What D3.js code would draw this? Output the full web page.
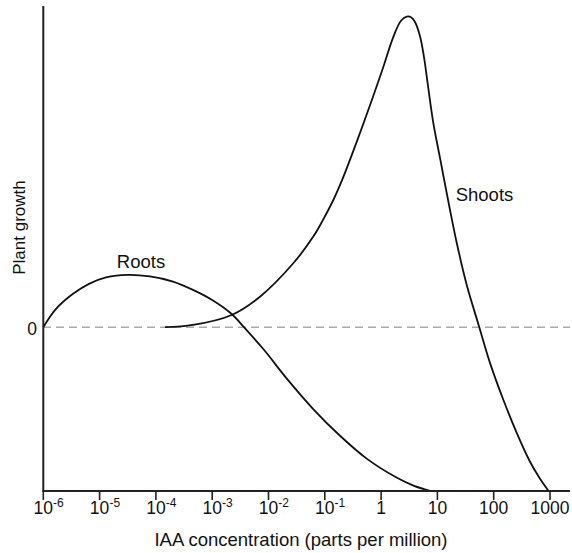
<!DOCTYPE html>
<html>
<head>
<meta charset="utf-8">
<script src="https://cdn.jsdelivr.net/npm/d3@7"></script>
<style>
  body { margin: 0; background: #fff; }
  text { font-family: "Liberation Sans", Arial, sans-serif; fill: #111; }
</style>
</head>
<body>
<svg width="572" height="553"></svg>
<script>
// log10 of IAA concentration (ppm) and relative growth
const rootsLogConc = [-6, -5.774, -5.472, -5.188, -4.886, -4.496, -4.105, -3.696, -3.341, -2.986, -2.654, -2.435, -2.092, -1.671, -1.210, -0.730, -0.250, 0.283, 0.585, 0.887];
const rootsGrowth  = [0, 5.7, 10.4, 13.5, 15.5, 16.3, 15.8, 14.2, 11.6, 8.3, 4.1, 0, -6.8, -16.1, -25.4, -33.8, -41.0, -46.9, -49.4, -51];

const shootsLogConc = [-3.838, -3.341, -2.654, -2.151, -1.560, -1.204, -1.032, -0.849, -0.677, -0.433, -0.139, 0.039, 0.211, 0.353, 0.455, 0.531, 0.602, 0.691, 0.762, 0.824, 0.927, 1.046, 1.224, 1.348, 1.520, 1.744, 1.934, 2.171, 2.409, 2.645, 2.823, 2.975];
const shootsGrowth  = [0, 0.7, 3.8, 9.5, 19.9, 28.2, 33.4, 39.6, 46.5, 57.7, 72.0, 81.0, 90.1, 95.4, 96.7, 96.5, 95.0, 90.6, 84.1, 76.3, 63.6, 52.7, 36.5, 25.9, 13.2, 0, -11.1, -22.6, -32.9, -41.9, -47.2, -51];

const tickExponents = [-6, -5, -4, -3, -2, -1, 0, 1, 2, 3];
const tickLabels = ["10", "10", "10", "10", "10", "10", "1", "10", "100", "1000"];
const tickSuper = ["-6", "-5", "-4", "-3", "-2", "-1", "", "", "", ""];

const svg = d3.select("svg");
const x = d3.scaleLog().domain([1e-6, 1000]).range([43.3, 550]);
const y = d3.scaleLinear().domain([-51, 100]).range([491, 6]);

// zero line
svg.append("line")
    .attr("x1", 43).attr("x2", 570)
    .attr("y1", y(0)).attr("y2", y(0))
    .attr("stroke", "#aaa")
    .attr("stroke-width", 1.6)
    .attr("stroke-dasharray", "8,5");

// curves
const line = d3.line()
    .x(d => x(10 ** d[0]))
    .y(d => y(d[1]))
    .curve(d3.curveCatmullRom.alpha(0.5));

const series = [
    d3.zip(rootsLogConc, rootsGrowth),
    d3.zip(shootsLogConc, shootsGrowth)
];

svg.selectAll("path.curve")
    .data(series)
    .enter()
    .append("path")
    .attr("class", "curve")
    .attr("d", line)
    .attr("fill", "none")
    .attr("stroke", "#111")
    .attr("stroke-width", 1.8);

// axes
svg.append("line")
    .attr("x1", 43.3).attr("x2", 43.3)
    .attr("y1", 6).attr("y2", 491)
    .attr("stroke", "#222").attr("stroke-width", 2);
svg.append("line")
    .attr("x1", 42.3).attr("x2", 570)
    .attr("y1", 491).attr("y2", 491)
    .attr("stroke", "#222").attr("stroke-width", 2);

const ticks = svg.selectAll("g.tick")
    .data(tickExponents)
    .enter()
    .append("g")
    .attr("class", "tick")
    .attr("transform", d => `translate(${x(10 ** d)},0)`);

ticks.append("line")
    .attr("y1", 491).attr("y2", 500)
    .attr("stroke", "#222").attr("stroke-width", 1.6);

ticks.append("text")
    .attr("y", 513.5)
    .attr("text-anchor", "middle")
    .attr("font-size", 17.5)
    .text((d, i) => tickLabels[i]);

ticks.filter((d, i) => tickSuper[i] !== "")
    .append("text")
    .attr("x", 9.8)
    .attr("y", 507)
    .attr("font-size", 12)
    .text(d => tickSuper[tickExponents.indexOf(d)]);

// labels
svg.append("text")
    .attr("x", 301).attr("y", 545.5)
    .attr("text-anchor", "middle")
    .attr("font-size", 18.5)
    .text("IAA concentration (parts per million)");

svg.append("text")
    .attr("transform", "translate(25,227.5) rotate(-90)")
    .attr("text-anchor", "middle")
    .attr("font-size", 17)
    .text("Plant growth");

svg.append("text")
    .attr("x", 37).attr("y", 335)
    .attr("text-anchor", "end")
    .attr("font-size", 17.5)
    .text("0");

svg.append("text")
    .attr("x", 141).attr("y", 267.5)
    .attr("text-anchor", "middle")
    .attr("font-size", 18.5)
    .text("Roots");

svg.append("text")
    .attr("x", 455.7).attr("y", 201)
    .attr("font-size", 18.5)
    .text("Shoots");
</script>
</body>
</html>
